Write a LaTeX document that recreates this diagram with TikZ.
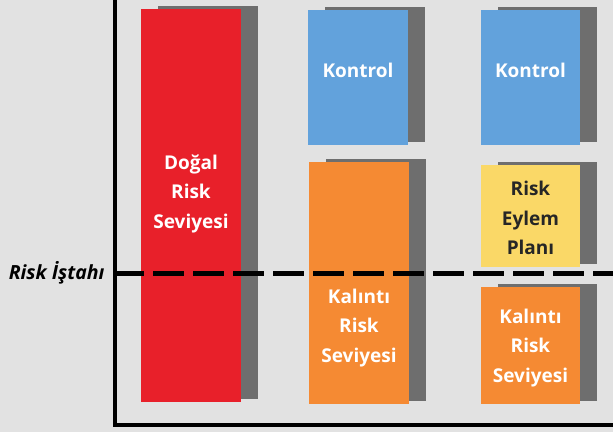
\documentclass[tikz,border=0pt]{standalone}
\usepackage{fontspec}
\setmainfont{Open Sans}
\usetikzlibrary{shadows}

\definecolor{zemin}{HTML}{E2E2E2}
\definecolor{kirmizi}{HTML}{E8202A}
\definecolor{mavi}{HTML}{62A2DC}
\definecolor{turuncu}{HTML}{F58A33}
\definecolor{sari}{HTML}{FAD867}
\definecolor{yan}{HTML}{6E6E6E}

\tikzset{
  kutu/.style={rectangle, inner sep=0pt, draw=none,
    general shadow={fill=yan, shadow xshift=17pt, shadow yshift=3pt}},
  yazi/.style={align=center, text=white,
    font=\fontsize{19}{29.5}\selectfont\bfseries},
  eksen/.style={line width=4pt, black},
  istahcizgi/.style={line width=5pt, black, dash pattern=on 31pt off 9pt}
}

\begin{document}
\begin{tikzpicture}[x=1pt, y=-1pt]
        \fill[zemin] (0,0) rectangle (613,432);
        \useasboundingbox (0,0) rectangle (613,432);

        % kutular
        \node[kutu, fill=kirmizi, minimum width=100pt, minimum height=393pt] (dogal) at (191,205.5) {};
        \node[kutu, fill=mavi, minimum width=100pt, minimum height=135pt] (kontrol1) at (358,77.5) {};
        \node[kutu, fill=turuncu, minimum width=100pt, minimum height=242pt] (kalinti1) at (359,283) {};
        \node[kutu, fill=mavi, minimum width=99pt, minimum height=135pt] (kontrol2) at (530.5,77.5) {};
        \node[kutu, fill=sari, minimum width=99pt, minimum height=102pt] (plan) at (530.5,216) {};
        \node[kutu, fill=turuncu, minimum width=99pt, minimum height=117pt] (kalinti2) at (530.5,345.5) {};

        % yazilar
        \node[yazi] (dogalyazi) at ([yshift=12pt]dogal.center) {Doğal\\Risk\\Seviyesi};
        \node[yazi] (kontrol1yazi) at ([yshift=7pt]kontrol1.center) {Kontrol};
        \node[yazi] (kalinti1yazi) at ([yshift=-45pt]kalinti1.center) {Kalıntı\\Risk\\Seviyesi};
        \node[yazi] (kontrol2yazi) at ([yshift=7pt]kontrol2.center) {Kontrol};
        \node[yazi, text=black!85] (planyazi) at ([yshift=-2pt]plan.center) {Risk\\Eylem\\Planı};
        \node[yazi] (kalinti2yazi) at ([yshift=-2.5pt]kalinti2.center) {Kalıntı\\Risk\\Seviyesi};

        % eksenler
        \coordinate (ust) at (115,0);
        \coordinate (kose) at (115,425);
        \coordinate (sag) at (613,425);
        \draw[eksen] (ust) -- (kose) -- (sag);

        % risk istahi
        \node[font=\fontsize{19.5}{22}\selectfont\bfseries\itshape, anchor=east] (istah) at (108,273) {Risk İştahı};
        \coordinate (cizgibas) at (113,273);
        \coordinate (cizgison) at (613,273);
        \draw[istahcizgi] (cizgibas) -- (cizgison);
      \end{tikzpicture}
\end{document}
